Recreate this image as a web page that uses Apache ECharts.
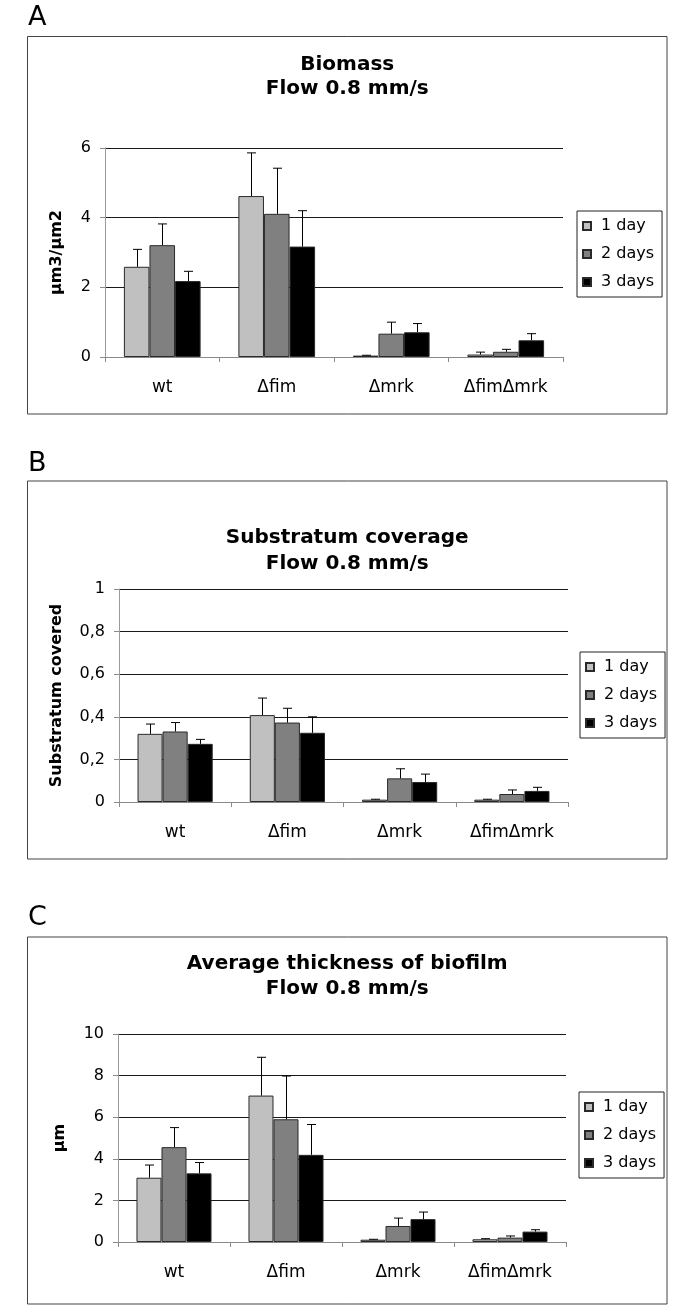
<!DOCTYPE html>
<html><head><meta charset="utf-8">
<script src="https://cdn.jsdelivr.net/npm/echarts@6/dist/echarts.min.js"></script>
<style>html,body{margin:0;padding:0;background:#fff}#c{width:685px;height:1312px}</style>
</head><body><div id="c"></div>
<script>
const categories = ['wt', '\u0394fim', '\u0394mrk', '\u0394fim\u0394mrk'];
const seriesNames = ['1 day', '2 days', '3 days'];
const barColors = ['#c0c0c0', '#808080', '#000000'];

// Panel A: Biomass (µm3/µm2)
const biomassDay1 = [2.59, 4.62, 0.04, 0.07];
const biomassDay2 = [3.21, 4.11, 0.67, 0.15];
const biomassDay3 = [2.18, 3.17, 0.71, 0.48];
const biomassErr1 = [0.50, 1.24, 0.01, 0.07];
const biomassErr2 = [0.61, 1.31, 0.33, 0.07];
const biomassErr3 = [0.28, 1.03, 0.25, 0.19];
const biomassTicks = [0, 2, 4, 6];

// Panel B: Substratum coverage
const coverDay1 = [0.320, 0.408, 0.011, 0.011];
const coverDay2 = [0.331, 0.373, 0.111, 0.0375];
const coverDay3 = [0.273, 0.325, 0.094, 0.052];
const coverErr1 = [0.046, 0.080, 0.002, 0.002];
const coverErr2 = [0.042, 0.067, 0.045, 0.019];
const coverErr3 = [0.021, 0.075, 0.037, 0.017];
const coverTicks = [0, 0.2, 0.4, 0.6, 0.8, 1];

// Panel C: Average thickness (µm)
const thickDay1 = [3.09, 7.04, 0.11, 0.13];
const thickDay2 = [4.56, 5.90, 0.77, 0.21];
const thickDay3 = [3.30, 4.19, 1.10, 0.50];
const thickErr1 = [0.61, 1.84, 0.02, 0.03];
const thickErr2 = [0.94, 2.08, 0.38, 0.08];
const thickErr3 = [0.52, 1.46, 0.34, 0.09];
const thickTicks = [0, 2, 4, 6, 8, 10];

const FONT = '"DejaVu Sans", "Liberation Sans", Arial, sans-serif';
const CAT_GAP = 0.33;

const panels = [
  { letter: 'A', letterY: 18, box: [27.5, 36.5, 667, 414], titles: ['Biomass', 'Flow 0.8 mm/s'], titleY: [65, 89],
    grid: { left: 105, right: 685 - 563, top: 148, height: 209 }, yName: '\u00b5m3/\u00b5m2', nameGap: 40,
    axis: { min: 0, max: 6, interval: 2 }, ticks: biomassTicks, fmt: v => String(v),
    vals: [biomassDay1, biomassDay2, biomassDay3], errs: [biomassErr1, biomassErr2, biomassErr3], legendTop: 211, legendLeft: 577 },
  { letter: 'B', letterY: 464, box: [27.5, 481, 667, 859], titles: ['Substratum coverage', 'Flow 0.8 mm/s'], titleY: [538, 564],
    grid: { left: 119, right: 685 - 568, top: 589, height: 213 }, yName: 'Substratum covered', nameGap: 54,
    axis: { min: 0, max: 1, interval: 0.2 }, ticks: coverTicks, fmt: v => String(Math.round(v * 10) / 10).replace('.', ','),
    vals: [coverDay1, coverDay2, coverDay3], errs: [coverErr1, coverErr2, coverErr3], legendTop: 652, legendLeft: 580 },
  { letter: 'C', letterY: 918, box: [27.5, 937, 667, 1304], titles: ['Average thickness of biofilm', 'Flow 0.8 mm/s'], titleY: [964, 989],
    grid: { left: 118, right: 685 - 566, top: 1034, height: 208 }, yName: '\u00b5m', nameGap: 50,
    axis: { min: 0, max: 10, interval: 2 }, ticks: thickTicks, fmt: v => String(v),
    vals: [thickDay1, thickDay2, thickDay3], errs: [thickErr1, thickErr2, thickErr3], legendTop: 1092, legendLeft: 579 }
];

function errRender(params, api) {
  const cat = api.value(0), s = api.value(1), v = api.value(2), e = api.value(3);
  const base = api.coord([cat, v]);
  const top = api.coord([cat, v + e]);
  const bw = api.size([1, 0])[0] * (1 - CAT_GAP) / 3;
  const x = Math.round(base[0] + (s - 1) * bw) + 0.5;
  const st = { stroke: '#000', lineWidth: 1 };
  return { type: 'group', children: [
    { type: 'line', shape: { x1: x, y1: base[1], x2: x, y2: top[1] }, style: st },
    { type: 'line', shape: { x1: x - 4.5, y1: top[1], x2: x + 4.5, y2: top[1] }, style: st }
  ] };
}

const grid = [], xAxis = [], yAxis = [], series = [], legend = [], graphic = [];
panels.forEach((p, i) => {
  grid.push(p.grid);
  xAxis.push({ type: 'category', gridIndex: i, data: categories,
    axisLine: { lineStyle: { color: '#8a8a8a', width: 1 } },
    axisTick: { show: true, alignWithLabel: false, length: 5, lineStyle: { color: '#8a8a8a' } },
    axisLabel: { interval: 0, margin: 22, color: '#000', fontSize: 17, fontFamily: FONT },
    splitLine: { show: false } });
  yAxis.push({ type: 'value', gridIndex: i, min: p.axis.min, max: p.axis.max, interval: p.axis.interval,
    name: p.yName, nameLocation: 'middle', nameGap: p.nameGap,
    nameTextStyle: { color: '#000', fontSize: 16, fontWeight: 'bold', fontFamily: FONT },
    axisLine: { show: true, lineStyle: { color: '#9a9a9a', width: 1 } },
    axisTick: { show: true, length: 5, lineStyle: { color: '#8a8a8a' } },
    axisLabel: { color: '#000', fontSize: 16, fontFamily: FONT, margin: 14, formatter: p.fmt },
    splitLine: { show: true, lineStyle: { color: '#1a1a1a', width: 1 } } });
  const errData = [];
  p.vals.forEach((vals, k) => {
    series.push({ type: 'bar', name: seriesNames[k], xAxisIndex: i, yAxisIndex: i, data: vals,
      barGap: '0%', barCategoryGap: (CAT_GAP * 100) + '%',
      itemStyle: { color: barColors[k], borderColor: '#2a2a2a', borderWidth: 1 },
      emphasis: { disabled: true }, animation: false });
    vals.forEach((v, c) => errData.push([c, k, v, p.errs[k][c]]));
  });
  series.push({ type: 'custom', name: 'err' + i, xAxisIndex: i, yAxisIndex: i, data: errData,
    encode: { x: 0, y: 2 }, renderItem: errRender, z: 5, animation: false, silent: true });
  legend.push({ data: seriesNames, orient: 'vertical', left: p.legendLeft, top: p.legendTop,
    padding: [7, 8, 7, 5], itemGap: 12, itemWidth: 8, itemHeight: 8, icon: 'rect',
    borderColor: '#222', borderWidth: 1, backgroundColor: '#fff', selectedMode: false,
    textStyle: { color: '#000', fontSize: 16, fontFamily: FONT, padding: [0, 0, 0, 5] } });
  const b = p.box;
  graphic.push({ type: 'rect', z: -10, shape: { x: b[0], y: b[1], width: b[2] - b[0], height: b[3] - b[1] },
    style: { fill: 'none', stroke: '#444', lineWidth: 1 } });
  graphic.push({ type: 'text', x: 28, y: p.letterY,
    style: { text: p.letter, fill: '#000', fontSize: 27, fontFamily: FONT, align: 'left', verticalAlign: 'middle' } });
  p.titles.forEach((t, j) => graphic.push({ type: 'text', x: (b[0] + b[2]) / 2, y: p.titleY[j],
    style: { text: t, fill: '#000', fontSize: 20, fontWeight: 'bold', fontFamily: FONT, align: 'center', verticalAlign: 'middle' } }));
});

const chart = echarts.init(document.getElementById('c'), null, { renderer: 'canvas' });
chart.setOption({ backgroundColor: '#fff', animation: false, grid, xAxis, yAxis, series, legend, graphic });
</script></body></html>
